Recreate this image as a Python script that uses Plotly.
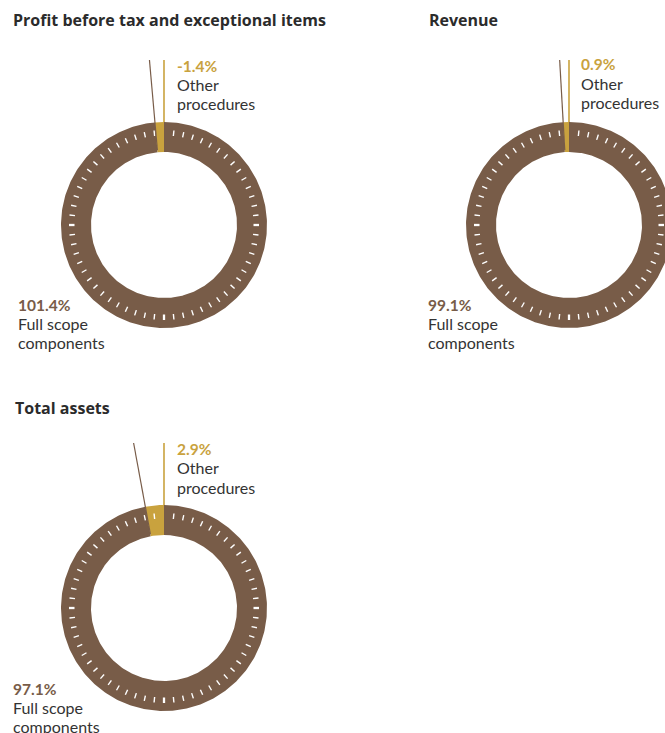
import math
import plotly.graph_objects as go

# Audit coverage split per metric (percent)
titles = ["Profit before tax and exceptional items", "Revenue", "Total assets"]
full_scope = [101.4, 99.1, 97.1]
other_procedures = [-1.4, 0.9, 2.9]
full_label = ["Full scope", "components"]
other_label = ["Other", "procedures"]

BROWN = "#785C48"
GOLD = "#C9A23E"
TEXT = "#333333"
FONT = "Lato"
TITLE_FONT = "Open Sans"

W, H = 665, 733
R_OUT, R_IN = 103, 73
LEADER = 165

# panel layout: donut centre, title anchor, label anchors
panels = [
    dict(c=(164, 225), title=(12, 26.7), right=(176, 71.7), left=(17, 310.7)),
    dict(c=(569, 225), title=(428, 26.7), right=(580, 70.5), left=(427, 310.7)),
    dict(c=(164, 608), title=(14, 414), right=(176, 455), left=(12, 695)),
]


def pt(cx, cy, r, phi):
    a = math.radians(phi)
    return cx + r * math.sin(a), cy - r * math.cos(a)


def sector(cx, cy, a0, a1, n=360):
    steps = max(4, int(abs(a1 - a0) / 360 * n) + 2)
    xs, ys = [], []
    for i in range(steps + 1):
        x, y = pt(cx, cy, R_OUT, a0 + (a1 - a0) * i / steps)
        xs.append(x); ys.append(y)
    for i in range(steps + 1):
        x, y = pt(cx, cy, R_IN, a1 - (a1 - a0) * i / steps)
        xs.append(x); ys.append(y)
    xs.append(xs[0]); ys.append(ys[0])
    return xs, ys


fig = go.Figure()
annotations = []


def text_line(x, y_base, text, size, color, bold=False, family=FONT):
    t = f"<b>{text}</b>" if bold else text
    annotations.append(dict(
        x=x, y=y_base - 0.39 * size, xref="x", yref="y", text=t,
        showarrow=False, xanchor="left", yanchor="middle",
        font=dict(family=family, size=size, color=color), borderpad=0,
    ))


for p, title, fs, op in zip(panels, titles, full_scope, other_procedures):
    cx, cy = p["c"]
    # angular share of the "other procedures" slice
    share = abs(op) / 100 * 360
    # full scope (brown) sweeps clockwise from 12 o'clock, other procedures sits just before it
    bx, by = sector(cx, cy, 0, 360 - share)
    fig.add_trace(go.Scatter(x=bx, y=by, mode="lines", fill="toself", fillcolor=BROWN,
                             line=dict(width=0, color=BROWN), hoverinfo="skip"))
    gx, gy = sector(cx, cy, 360 - share, 360)
    fig.add_trace(go.Scatter(x=gx, y=gy, mode="lines", fill="toself", fillcolor=GOLD,
                             line=dict(width=0, color=GOLD), hoverinfo="skip"))

    # clock-style ticks
    for major in (False, True):
        tx, ty = [], []
        for k in range(1, 60):
            if (k % 15 == 0) != major:
                continue
            x0, y0 = pt(cx, cy, 89.5, k * 6)
            x1, y1 = pt(cx, cy, 95, k * 6)
            tx += [x0, x1, None]; ty += [y0, y1, None]
        fig.add_trace(go.Scatter(x=tx, y=ty, mode="lines", hoverinfo="skip",
                                 line=dict(color="white", width=2.3 if major else 1.4)))

    # leader lines
    phi = 360 - share
    r_top = LEADER / math.cos(math.radians(share))
    x0, y0 = pt(cx, cy, R_IN + 2, phi)
    x1, y1 = pt(cx, cy, r_top, phi)
    fig.add_trace(go.Scatter(x=[x0, x1], y=[y0, y1], mode="lines", hoverinfo="skip",
                             line=dict(color=BROWN, width=1.2)))
    fig.add_trace(go.Scatter(x=[cx, cx], y=[cy - R_OUT, cy - LEADER], mode="lines",
                             hoverinfo="skip", line=dict(color=GOLD, width=1.6)))

    # texts
    tx, ty = p["title"]
    text_line(tx, ty, title, 16, "#2b2b2b", bold=True, family=TITLE_FONT)
    rx, ry = p["right"]
    text_line(rx, ry, f"{op:.1f}%", 15.5, GOLD, bold=True)
    text_line(rx, ry + 19.2, other_label[0], 16, TEXT)
    text_line(rx, ry + 38.4, other_label[1], 16, TEXT)
    lx, ly = p["left"]
    text_line(lx, ly, f"{fs:.1f}%", 15.5, BROWN, bold=True)
    text_line(lx, ly + 19, full_label[0], 16, TEXT)
    text_line(lx, ly + 38, full_label[1], 16, TEXT)

fig.update_layout(
    width=W, height=H, margin=dict(l=0, r=0, t=0, b=0),
    paper_bgcolor="white", plot_bgcolor="white", showlegend=False,
    xaxis=dict(range=[0, W], visible=False, fixedrange=True),
    yaxis=dict(range=[H, 0], visible=False, fixedrange=True),
    annotations=annotations,
)
fig.write_html("out.html")
